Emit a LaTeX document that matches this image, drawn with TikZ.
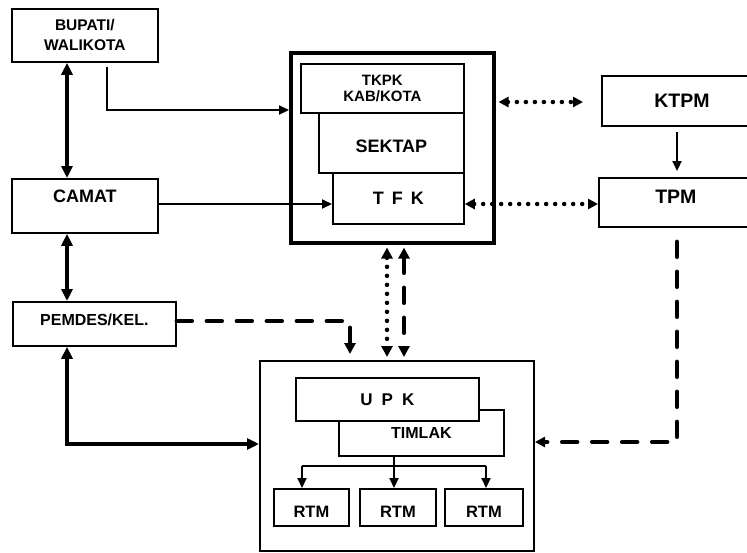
\documentclass[tikz,border=0pt]{standalone}
\usepackage{fontspec}
\setmainfont{Liberation Sans}
\usetikzlibrary{arrows.meta}
\begin{document}
\begin{tikzpicture}[x=1pt,y=-1pt,
  box/.style={draw, line width=1.8pt, fill=white, inner sep=0pt, anchor=north west},
  frame/.style={draw, line width=3.5pt, inner sep=0pt, anchor=north west},
  framethin/.style={draw, line width=2pt, inner sep=0pt, anchor=north west},
  fs/.style={font=\fontsize{#1}{#1}\selectfont\bfseries},
  Tp/.tip={Triangle[length=10pt,width=10pt]},
  Tb/.tip={Triangle[length=12pt,width=11pt]},
  Tm/.tip={Triangle[length=11pt,width=11pt]},
  Ts/.tip={Triangle[length=10pt,width=9pt]},
  dbl/.style={line width=4pt, {Tb}-{Tb}},
  sarr/.style={line width=2.2pt, -{Ts}},
  dotln/.style={line width=4.5pt, line cap=round, dash pattern=on 0pt off 9pt},
  dshln/.style={line width=4.5pt, line cap=round, dash pattern=on 15pt off 15pt}
]
\useasboundingbox (0,0) rectangle (747,552);
\clip (0,0) rectangle (747,552);

% coordinates for connector routes
\coordinate (xa) at (67,0);
\coordinate (xb) at (107,0);
\coordinate (yb) at (0,110);
\coordinate (yc) at (0,204);
\coordinate (ye) at (0,444);
\coordinate (yp) at (0,321);
\coordinate (xp) at (350,0);
\coordinate (xd) at (387,0);
\coordinate (xe) at (404,0);
\coordinate (yi) at (0,102);
\coordinate (xk) at (677,0);
\coordinate (yl) at (0,442);
\coordinate (xr1) at (302,0);
\coordinate (xr2) at (394,0);
\coordinate (xr3) at (486,0);
\coordinate (yr) at (0,466);

% left column
\node[box, minimum width=146pt, minimum height=53pt, align=center,
      font=\fontsize{15.5}{20}\selectfont\bfseries] (bup) at (11,8) {BUPATI/\\WALIKOTA};
\node[box, minimum width=146pt, text height=24pt, text depth=30pt, fs=18] (cam) at (11,178) {CAMAT};
\node[box, minimum width=163pt, text height=24pt, text depth=20pt, fs=16] (pem) at (12,301) {PEMDES/KEL.};

% top centre group
\node[frame, minimum width=203pt, minimum height=190pt] (kab) at (289,51) {};
\node[box, minimum width=163pt, minimum height=49pt, align=center,
      font=\fontsize{15}{16}\selectfont\bfseries] (tkpk) at (300,63) {TKPK\\KAB/KOTA};
\node[box, minimum width=145pt, text height=40pt, text depth=20pt, fs=18] (sek) at (318,112) {SEKTAP};
\node[box, minimum width=131pt, text height=32pt, text depth=19pt, fs=18] (tfk) at (332,172) {T\hspace{8pt}F\hspace{8pt}K};

% right column
\node[box, minimum width=160pt, minimum height=50pt, fs=19.5] (ktpm) at (601,75) {KTPM};
\node[box, minimum width=162pt, text height=26pt, text depth=23pt, fs=19.5] (tpm) at (598,177) {\hspace*{-8pt}TPM};

% bottom group
\node[framethin, minimum width=274pt, minimum height=190pt] (upkb) at (259,360) {};
\node[box, minimum width=165pt, text height=29pt, text depth=17pt, fs=16] (tim) at (338,409) {TIMLAK};
\node[box, minimum width=183pt, minimum height=43pt, fs=17] (upk) at (295,377) {U\hspace{9pt}P\hspace{9pt}K};
\node[box, minimum width=75pt, text height=29pt, text depth=8pt, fs=16.5] (r1) at (273,488) {RTM};
\node[box, minimum width=76pt, text height=29pt, text depth=8pt, fs=16.5] (r2) at (359,488) {RTM};
\node[box, minimum width=78pt, text height=29pt, text depth=8pt, fs=16.5] (r3) at (444,488) {RTM};

% connectors
\draw[dbl] (bup.south -| xa) -- (cam.north -| xa);
\draw[dbl] (cam.south -| xa) -- (pem.north -| xa);
\draw[dbl] (pem.south -| xa) -- (xa |- ye) -- (upkb.west |- ye);
\draw[sarr, shorten <=4pt] (bup.south -| xb) -- (xb |- yb) -- (kab.west |- yb);
\draw[sarr] (cam.east |- yc) -- (tfk.west |- yc);

\draw[dshln, -{Tm}, shorten >=6pt]
  (pem.east |- yp) -- (xp |- yp) -- (upkb.north -| xp);
\draw[dotln, {Tm}-{Tm}, shorten <=3pt, shorten >=3pt]
  (kab.south -| xd) -- (upkb.north -| xd);
\draw[dshln, {Tm}-{Tm}, shorten <=3pt, shorten >=3pt]
  (kab.south -| xe) -- (upkb.north -| xe);

\draw[dotln, {Tp}-{Tp}, shorten <=3pt, shorten >=18pt] (kab.east |- yi) -- (ktpm.west |- yi);
\draw[dotln, {Tp}-{Tp}] (tfk.east |- yc) -- (tpm.west |- yc);
\draw[sarr, shorten <=5pt, shorten >=6pt] (ktpm.south -| xk) -- (tpm.north -| xk);
\draw[dshln, -{Tp}, shorten <=14pt] (tpm.south -| xk) -- (xk |- yl) -- (upkb.east |- yl);

% TIMLAK to RTM
\draw[line width=2pt] (tim.south -| xr2) -- (xr2 |- yr);
\draw[line width=2pt] (xr1 |- yr) -- (xr3 |- yr);
\draw[sarr] (xr1 |- yr) -- (r1.north -| xr1);
\draw[sarr] (xr2 |- yr) -- (r2.north -| xr2);
\draw[sarr] (xr3 |- yr) -- (r3.north -| xr3);
\end{tikzpicture}
\end{document}
